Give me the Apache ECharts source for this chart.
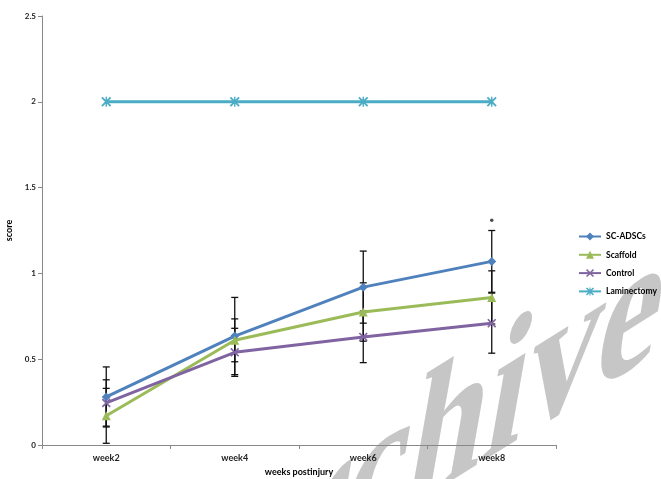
<!DOCTYPE html>
<html>
<head>
<meta charset="utf-8">
<script src="https://cdn.jsdelivr.net/npm/echarts@6/dist/echarts.min.js"></script>
<style>
  html, body { margin: 0; padding: 0; background: #fff; }
  #chart { width: 661px; height: 479px; }
</style>
</head>
<body>
<div id="chart"></div>
<script>
// Locomotor score by week after injury, mean with SD error bars
const weeks = ['week2', 'week4', 'week6', 'week8'];
const yTicks = [0, 0.5, 1, 1.5, 2, 2.5];

const scAdscs = [0.28, 0.635, 0.92, 1.07];
const scaffold = [0.17, 0.61, 0.775, 0.86];
const control = [0.245, 0.54, 0.63, 0.71];
const laminectomy = [2, 2, 2, 2];

// standard deviations (symmetric arms)
const scAdscsErr = [0.175, 0.225, 0.21, 0.18];
const scaffoldErr = [0.16, 0.125, 0.17, 0.155];
const controlErr = [0.135, 0.14, 0.15, 0.175];

// significance mark above week8
const sigMark = [[3, 1.31]];

const colors = {
  sc: '#4F81BD', scaffold: '#9BBB59', control: '#8064A2', lam: '#4BACC6'
};

const crossPath = 'path://M0,1.3L1.3,0L5,3.7L8.7,0L10,1.3L6.3,5L10,8.7L8.7,10L5,6.3L1.3,10L0,8.7L3.7,5Z';
const starPath = 'path://M0,1.3L1.3,0L5,3.7L8.7,0L10,1.3L6.3,5L10,8.7L8.7,10L5,6.3L1.3,10L0,8.7L3.7,5ZM4.3,0L5.7,0L5.7,10L4.3,10Z';

function errRows(means, errs) {
  return means.map((m, i) => [i, m - errs[i], m + errs[i]]);
}

function renderErr(params, api) {
  const x = api.value(0);
  const lo = api.coord([x, api.value(1)]);
  const hi = api.coord([x, api.value(2)]);
  const cap = 3.5;
  const style = { stroke: '#111', lineWidth: 1.3, fill: null };
  return {
    type: 'group',
    children: [
      { type: 'line', shape: { x1: lo[0], y1: lo[1], x2: hi[0], y2: hi[1] }, style },
      { type: 'line', shape: { x1: lo[0] - cap, y1: lo[1], x2: lo[0] + cap, y2: lo[1] }, style },
      { type: 'line', shape: { x1: hi[0] - cap, y1: hi[1], x2: hi[0] + cap, y2: hi[1] }, style }
    ]
  };
}

function errSeries(means, errs) {
  return {
    type: 'custom',
    renderItem: renderErr,
    data: errRows(means, errs),
    encode: { x: 0, y: [1, 2] },
    z: 1,
    silent: true
  };
}

function lineSeries(name, data, color, symbol, size) {
  return {
    name, type: 'line', data,
    symbol, symbolSize: size,
    showAllSymbol: true,
    lineStyle: { color, width: 3 },
    itemStyle: { color, borderWidth: 0 },
    z: 3
  };
}

// slanted diagonal stamp: rotate -> stretch -> rotate gives the sheared lettering
const stamp = {
  type: 'group',
  x: 163, y: 704,
  rotation: 1.0763,
  z: -10,
  silent: true,
  children: [{
    type: 'group',
    scaleX: 1.0745,
    scaleY: 0.4669,
    children: [{
      type: 'text',
      rotation: -0.9183,
      style: {
        text: 'Archive',
        fill: '#c6c6c6',
        font: 'bold 225px "Liberation Serif", "DejaVu Serif", serif',
        textAlign: 'left',
        textVerticalAlign: 'bottom'
      }
    }]
  }]
};

const chart = echarts.init(document.getElementById('chart'), null, { renderer: 'canvas' });
chart.setOption({
  animation: false,
  backgroundColor: '#fff',
  textStyle: { fontFamily: 'Lato, "DejaVu Sans", sans-serif' },
  grid: { left: 42, right: 105, top: 16, bottom: 34, containLabel: false, outerBoundsMode: 'none' },
  legend: {
    orient: 'vertical',
    left: 578,
    top: 232,
    padding: 0,
    itemWidth: 22,
    itemHeight: 10,
    itemGap: 9.3,
    textStyle: { fontSize: 8.5, fontWeight: 'bold', color: '#000' },
    data: ['SC-ADSCs', 'Scaffold', 'Control', 'Laminectomy']
  },
  xAxis: {
    type: 'category',
    data: weeks,
    boundaryGap: true,
    name: 'weeks postinjury',
    nameLocation: 'middle',
    nameGap: 23,
    nameTextStyle: { fontSize: 9, fontWeight: 'bold', color: '#000' },
    axisLine: { lineStyle: { color: '#888', width: 1 } },
    axisTick: { show: true, length: 4, lineStyle: { color: '#888' } },
    axisLabel: { fontSize: 9, fontWeight: 'bold', color: '#222', margin: 9 },
    splitLine: { show: false }
  },
  yAxis: {
    type: 'value',
    min: yTicks[0],
    max: yTicks[yTicks.length - 1],
    interval: 0.5,
    name: 'score',
    nameLocation: 'middle',
    nameRotate: 90,
    nameGap: 26,
    nameTextStyle: { fontSize: 9, fontWeight: 'bold', color: '#000' },
    axisLine: { show: true, lineStyle: { color: '#888', width: 1 } },
    axisTick: { show: true, length: 4, inside: false, lineStyle: { color: '#888' } },
    axisLabel: { fontSize: 8, fontWeight: 'bold', color: '#222', margin: 6 },
    splitLine: { show: false }
  },
  series: [
    errSeries(scAdscs, scAdscsErr),
    errSeries(scaffold, scaffoldErr),
    errSeries(control, controlErr),
    lineSeries('SC-ADSCs', scAdscs, colors.sc, 'diamond', 9),
    lineSeries('Scaffold', scaffold, colors.scaffold, 'triangle', 9),
    lineSeries('Control', control, colors.control, crossPath, 9),
    lineSeries('Laminectomy', laminectomy, colors.lam, starPath, 10),
    {
      type: 'scatter', data: sigMark, symbol: 'circle', symbolSize: 3.5,
      itemStyle: { color: '#222' }, z: 4, silent: true
    }
  ],
  graphic: [stamp]
});
</script>
</body>
</html>
